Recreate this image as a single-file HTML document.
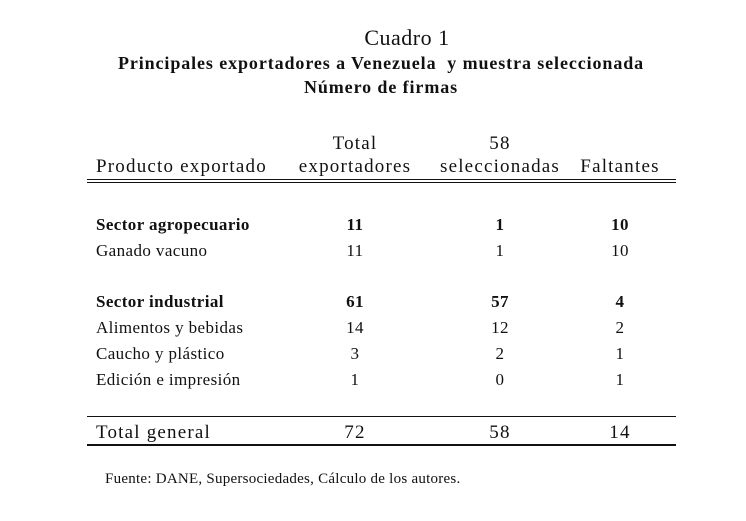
<!DOCTYPE html>
<html><head><meta charset="utf-8"><style>
body{margin:0;background:#fff;width:746px;height:521px;position:relative;font-family:"Liberation Serif",serif;color:#111;overflow:hidden}
.t{position:absolute;white-space:nowrap;line-height:20px}
.c{transform:translateX(-50%)}
.b{font-weight:bold}
.h{font-size:19px;letter-spacing:1.2px}
.r{font-size:17px;letter-spacing:0.4px}
.l{position:absolute;left:87px;width:589px;background:#111}
</style></head><body>
<div class="t c" style="left:407px;top:28px;font-size:22px;letter-spacing:0.5px">Cuadro 1</div>
<div class="t c b" style="left:381px;top:53px;font-size:18px;letter-spacing:0.9px">Principales exportadores a Venezuela&nbsp; y muestra seleccionada</div>
<div class="t c b" style="left:381px;top:77px;font-size:18px;letter-spacing:0.9px">Número de firmas</div>

<div class="t c h" style="left:355px;top:134px">Total</div>
<div class="t c h" style="left:500px;top:134px">58</div>
<div class="t h" style="left:96px;top:157px">Producto exportado</div>
<div class="t c h" style="left:355px;top:157px">exportadores</div>
<div class="t c h" style="left:500px;top:157px">seleccionadas</div>
<div class="t c h" style="left:620px;top:157px">Faltantes</div>
<div class="l" style="top:179px;height:1px"></div>
<div class="l" style="top:182px;height:1px"></div>

<div class="t b r" style="left:96px;top:215px">Sector agropecuario</div>
<div class="t c b r" style="left:355px;top:215px">11</div>
<div class="t c b r" style="left:500px;top:215px">1</div>
<div class="t c b r" style="left:620px;top:215px">10</div>
<div class="t r" style="left:96px;top:241px">Ganado vacuno</div>
<div class="t c r" style="left:355px;top:241px">11</div>
<div class="t c r" style="left:500px;top:241px">1</div>
<div class="t c r" style="left:620px;top:241px">10</div>

<div class="t b r" style="left:96px;top:292px">Sector industrial</div>
<div class="t c b r" style="left:355px;top:292px">61</div>
<div class="t c b r" style="left:500px;top:292px">57</div>
<div class="t c b r" style="left:620px;top:292px">4</div>
<div class="t r" style="left:96px;top:318px">Alimentos y bebidas</div>
<div class="t c r" style="left:355px;top:318px">14</div>
<div class="t c r" style="left:500px;top:318px">12</div>
<div class="t c r" style="left:620px;top:318px">2</div>
<div class="t r" style="left:96px;top:344px">Caucho y plástico</div>
<div class="t c r" style="left:355px;top:344px">3</div>
<div class="t c r" style="left:500px;top:344px">2</div>
<div class="t c r" style="left:620px;top:344px">1</div>
<div class="t r" style="left:96px;top:370px">Edición e impresión</div>
<div class="t c r" style="left:355px;top:370px">1</div>
<div class="t c r" style="left:500px;top:370px">0</div>
<div class="t c r" style="left:620px;top:370px">1</div>

<div class="l" style="top:416px;height:1px"></div>
<div class="t h" style="left:96px;top:423px">Total general</div>
<div class="t c h" style="left:355px;top:423px">72</div>
<div class="t c h" style="left:500px;top:423px">58</div>
<div class="t c h" style="left:620px;top:423px">14</div>
<div class="l" style="top:444px;height:2px"></div>

<div class="t" style="left:105px;top:469px;font-size:15px;letter-spacing:0.25px">Fuente: DANE, Supersociedades, Cálculo de los autores.</div>
</body></html>
